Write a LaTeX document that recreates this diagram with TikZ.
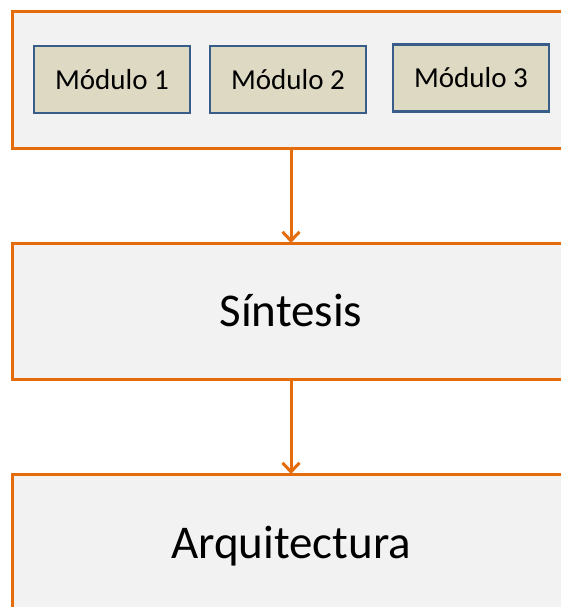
\documentclass[tikz,border=0pt]{standalone}
\usepackage{fontspec}
\setmainfont{Carlito}
\usetikzlibrary{positioning,arrows.meta}
\definecolor{borde}{HTML}{E46C0A}
\definecolor{fondo}{HTML}{F2F2F2}
\definecolor{modfill}{HTML}{DDD9C3}
\definecolor{modline}{HTML}{385D8A}

\begin{document}
\begin{tikzpicture}[x=1pt,y=-1pt,
  etapa/.style={draw=borde, fill=fondo, line width=3pt, minimum width=558pt,
    minimum height=136pt, inner sep=0pt, outer sep=0pt, font=\fontsize{47}{54}\selectfont},
  modulo/.style={draw=modline, fill=modfill, line width=2.6pt, minimum width=156pt,
    minimum height=67pt, outer sep=0pt, font=\fontsize{29}{34}\selectfont},
  flecha/.style={draw=borde, line width=3pt, -{Straight Barb[length=9pt,width=17pt]}}]
        \useasboundingbox (0,0) rectangle (561,607);
        \clip (0,0) rectangle (561,607);

        \node (top)[etapa] at (291,80) {};
        \node (sint)[etapa, below=95pt of top] {Síntesis};
        \node (arq)[etapa, minimum height=144pt, below=95pt of sint] {Arquitectura};

        %% modulos dentro de la caja de arriba
        \node (mod1)[modulo] at (112,79.5) {Módulo 1};
        \node (mod2)[modulo, right=20pt of mod1] {Módulo 2};
        \node (mod3)[modulo, right=27pt of mod2, yshift=1.5pt] {Módulo 3};

        \draw[flecha] (top) -- (sint);
        \draw[flecha] (sint) -- (arq);

      \end{tikzpicture}
\end{document}
